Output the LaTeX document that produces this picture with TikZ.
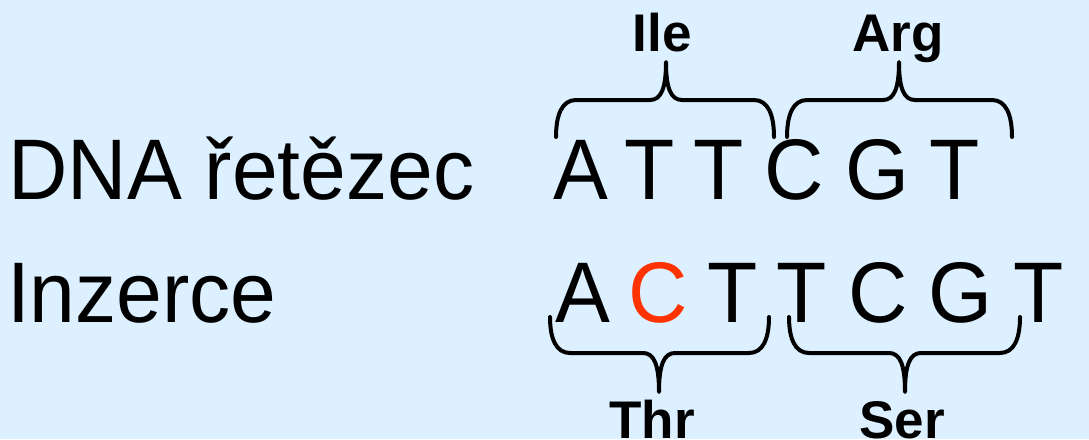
\documentclass[tikz,border=0pt]{standalone}
\usepackage{fontspec}
\setmainfont{Liberation Sans}
\definecolor{bgblue}{RGB}{221,240,255}
\definecolor{mutred}{RGB}{255,51,0}
\newcommand\narrowtext[1]{\scalebox{0.956}[1]{#1}}
\newcommand\codonbrace[6]{%
  \draw[bracestyle] (#1,#4) .. controls (#1,{#4+0.6*(#5-#4)}) and ({#1+6},#5) .. ({#1+20},#5)
    -- ({#3-16},#5) .. controls ({#3-5},#5) and (#3,{#5+0.3*(#6-#5)}) .. (#3,#6)
    .. controls (#3,{#5+0.3*(#6-#5)}) and ({#3+5},#5) .. ({#3+16},#5)
    -- ({#2-20},#5) .. controls ({#2-6},#5) and (#2,{#4+0.6*(#5-#4)}) .. (#2,#4);}
\begin{document}
\begin{tikzpicture}[x=1pt,y=-1pt,
  bracestyle/.style={line width=4pt,line cap=round,line join=round},
  base/.style={inner sep=0pt,outer sep=0pt,anchor=base},
  big/.style={base,font=\fontsize{86}{86}\selectfont},
  lbl/.style={base,font=\fontsize{53}{53}\selectfont\bfseries}]
\fill[bgblue] (0,0) rectangle (1089,439);
\useasboundingbox (0,0) rectangle (1089,439);
% row labels
\node[big,anchor=base west] (dna) at (8.5,199) {\narrowtext{DNA řetězec}};
\node[big,anchor=base west] (inz) at (7,322) {\narrowtext{Inzerce}};
% row 1
\node[big] (a1) at (581,199) {\narrowtext{A}};
\node[big] (a2) at (650,199) {\narrowtext{T}};
\node[big] (a3) at (718.5,199) {\narrowtext{T}};
\node[big] (a4) at (794,199) {\narrowtext{C}};
\node[big] (a5) at (877,199) {\narrowtext{G}};
\node[big] (a6) at (954.5,199) {\narrowtext{T}};
% row 2
\node[big] (b1) at (582.5,322) {\narrowtext{A}};
\node[big,text=mutred] (b2) at (658.5,322) {\narrowtext{C}};
\node[big] (b3) at (732.5,322) {\narrowtext{T}};
\node[big] (b4) at (802,322) {\narrowtext{T}};
\node[big] (b5) at (878,322) {\narrowtext{C}};
\node[big] (b6) at (960.5,322) {\narrowtext{G}};
\node[big] (b7) at (1038.5,322) {\narrowtext{T}};
% braces
\codonbrace{556}{774}{666}{137}{100}{62}
\codonbrace{787}{1012}{899}{137}{100}{62}
\codonbrace{550}{769}{659}{317}{353}{392}
\codonbrace{789}{1020}{905}{317}{353}{392}
% amino acids
\node[lbl] (ile) at (662,51) {Ile};
\node[lbl] (arg) at (898,51) {Arg};
\node[lbl] (thr) at (652,438) {Thr};
\node[lbl] (ser) at (902,438) {Ser};
\end{tikzpicture}
\end{document}
